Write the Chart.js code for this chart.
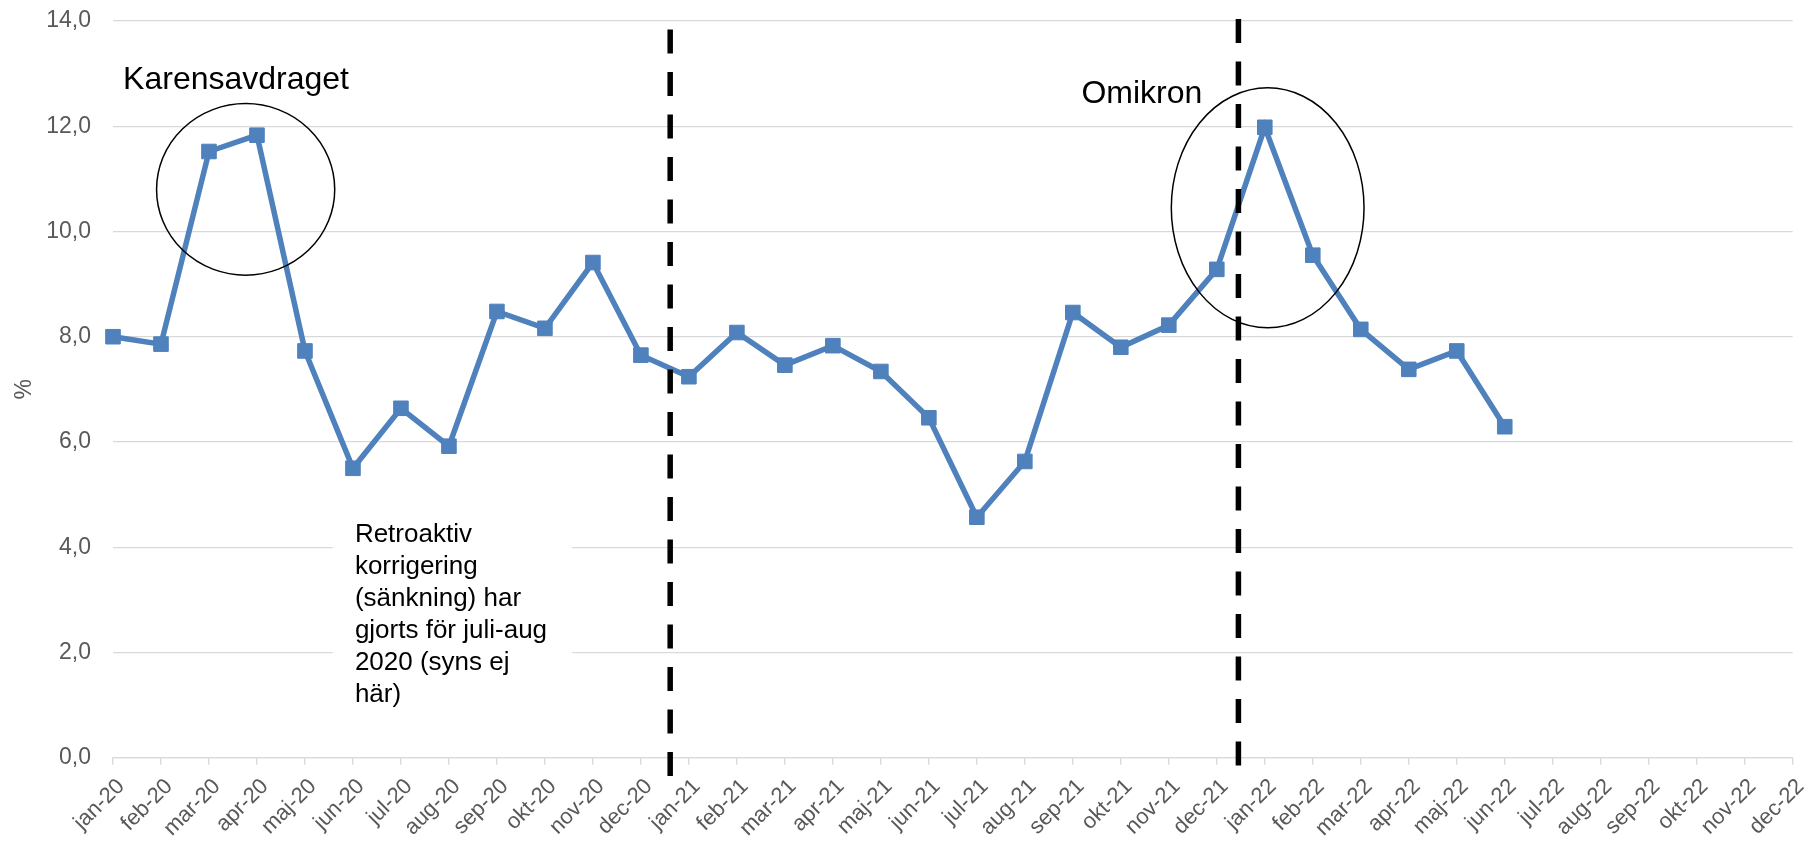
<!DOCTYPE html>
<html><head><meta charset="utf-8">
<script src="https://cdn.jsdelivr.net/npm/chart.js@4"></script>
<style>html,body{margin:0;padding:0;background:#fff}canvas{display:block}</style>
</head><body>
<canvas id="c" width="1804" height="843"></canvas>
<script>
const categories = ['jan-20','feb-20','mar-20','apr-20','maj-20','jun-20','jul-20','aug-20','sep-20','okt-20','nov-20','dec-20',
  'jan-21','feb-21','mar-21','apr-21','maj-21','jun-21','jul-21','aug-21','sep-21','okt-21','nov-21','dec-21',
  'jan-22','feb-22','mar-22','apr-22','maj-22','jun-22','jul-22','aug-22','sep-22','okt-22','nov-22','dec-22'];
const sickLeave = [8.0, 7.86, 11.52, 11.83, 7.73, 5.50, 6.64, 5.92, 8.48, 8.16, 9.41, 7.65,
  7.24, 8.08, 7.46, 7.83, 7.34, 6.46, 4.57, 5.63, 8.46, 7.80, 8.22, 9.28,
  11.98, 9.55, 8.14, 7.38, 7.73, 6.29, null, null, null, null, null, null];
const yMin = 0, yMax = 14, yStep = 2;

// annotation placement, in axis units (category index, %)
const dividers = [{x: 11.61, top: 13.84, bottom: -0.37}, {x: 23.45, top: 14.04, bottom: -0.15}];
const ellipses = [{cx: 2.764, cy: 10.80, rx: 1.856, ry: 1.63}, {cx: 24.06, cy: 10.45, rx: 2.008, ry: 2.28}];
const labels = [{text: 'Karensavdraget', x: 0.21, y: 12.71}, {text: 'Omikron', x: 20.18, y: 12.44}];
const noteLines = ['Retroaktiv', 'korrigering', '(sänkning) har', 'gjorts för juli-aug', '2020 (syns ej', 'här)'];
const note = {x: 5.04, y: 4.10, boxX0: 4.58, boxX1: 9.57, boxTop: 4.71, boxBottom: 0.72, lineStep: 0.61};

const FONT = "'Liberation Sans', Arial, sans-serif";

const annot = {
  id: 'annot',
  beforeDatasetsDraw(chart) {
    const {ctx, scales: {x, y}} = chart;
    ctx.save();
    ctx.fillStyle = '#ffffff';
    const x0 = x.getPixelForValue(note.boxX0), x1 = x.getPixelForValue(note.boxX1);
    const y0 = y.getPixelForValue(note.boxTop), y1 = y.getPixelForValue(note.boxBottom);
    ctx.fillRect(x0, y0, x1 - x0, y1 - y0);
    ctx.restore();
  },
  afterDatasetsDraw(chart) {
    const {ctx, scales: {x, y}} = chart;
    ctx.save();
    ctx.strokeStyle = '#000';
    ctx.lineWidth = 5.5;
    ctx.lineCap = 'butt';
    ctx.setLineDash([24, 18.5]);
    dividers.forEach(d => {
      const px = x.getPixelForValue(d.x);
      ctx.beginPath();
      ctx.moveTo(px, y.getPixelForValue(d.top));
      ctx.lineTo(px, y.getPixelForValue(d.bottom));
      ctx.stroke();
    });
    ctx.setLineDash([]);
    ctx.lineWidth = 1.5;
    const xu = x.getPixelForValue(1) - x.getPixelForValue(0);
    const yu = y.getPixelForValue(0) - y.getPixelForValue(1);
    ellipses.forEach(e => {
      ctx.beginPath();
      ctx.ellipse(x.getPixelForValue(e.cx), y.getPixelForValue(e.cy), e.rx * xu, e.ry * yu, 0, 0, Math.PI * 2);
      ctx.stroke();
    });
    ctx.fillStyle = '#000';
    ctx.textAlign = 'left';
    ctx.textBaseline = 'alphabetic';
    ctx.font = '32px ' + FONT;
    labels.forEach(l => ctx.fillText(l.text, x.getPixelForValue(l.x), y.getPixelForValue(l.y)));
    ctx.font = '26px ' + FONT;
    noteLines.forEach((t, i) => ctx.fillText(t, x.getPixelForValue(note.x), y.getPixelForValue(note.y - i * note.lineStep)));
    ctx.restore();
  }
};

new Chart(document.getElementById('c'), {
  type: 'line',
  data: {
    labels: categories,
    datasets: [{
      data: sickLeave,
      borderColor: '#4f81bd',
      backgroundColor: '#4f81bd',
      borderWidth: 5.5,
      pointStyle: 'rect',
      pointRadius: 10.3,
      pointBorderWidth: 1,
      pointHoverRadius: 10.3,
      tension: 0,
      spanGaps: false
    }]
  },
  options: {
    responsive: false,
    animation: false,
    devicePixelRatio: 1,
    layout: {padding: {top: 21, right: 9, left: 0, bottom: 0}},
    plugins: {legend: {display: false}, tooltip: {enabled: false}},
    scales: {
      x: {
        offset: false,
        grid: {display: true, drawOnChartArea: false, drawTicks: true, tickLength: 7, color: '#d9d9d9', lineWidth: 1.3},
        border: {display: true, color: '#d9d9d9', width: 1.3},
        ticks: {autoSkip: false, maxRotation: 45, minRotation: 45, color: '#595959', padding: 9, labelOffset: 8,
          font: {family: FONT, size: 22}},
        afterFit(s) { s.height = 85.3; s.paddingLeft = 0; s.paddingRight = 0; }
      },
      y: {
        min: yMin, max: yMax,
        grid: {color: '#d9d9d9', lineWidth: 1.3, drawTicks: false},
        border: {display: false},
        ticks: {stepSize: yStep, color: '#595959', padding: 22, font: {family: FONT, size: 23},
          callback: v => v.toFixed(1).replace('.', ',')},
        title: {display: true, text: '%', color: '#595959', font: {family: FONT, size: 23}, padding: {top: 11, bottom: 0}},
        afterFit(s) { s.width = 113; s.paddingTop = 0; s.paddingBottom = 0; }
      }
    }
  },
  plugins: [annot]
});
</script>
</body></html>
